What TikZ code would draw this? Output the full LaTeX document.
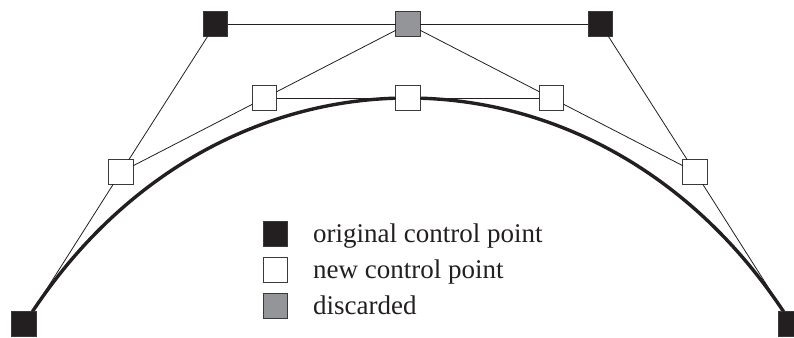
\documentclass[tikz,border=0pt]{standalone}
\usepackage{fontspec}
\setmainfont{Liberation Serif}
\definecolor{ink}{HTML}{231F20}
\definecolor{disc}{HTML}{939598}
\definecolor{edge}{HTML}{3A3A3A}
\begin{document}
\begin{tikzpicture}[x=1pt,y=-1pt,
  sq/.style={draw=edge,line width=0.9pt,minimum size=24.5pt,inner sep=0pt,outer sep=0pt},
  orig/.style={sq,fill=ink},
  newp/.style={sq,fill=white},
  discp/.style={sq,fill=disc},
  thin/.style={line width=0.8pt,draw=ink},
  curve/.style={line width=3.4pt,draw=ink},
  lab/.style={anchor=base west,inner sep=0pt,font=\fontsize{27}{31}\selectfont,text=ink}]
\useasboundingbox (0,0) rectangle (794,337);
% coordinates
\coordinate (c0) at (27,320);
\coordinate (c3) at (789,320);
\coordinate (k1) at (215.5,24);
\coordinate (k2) at (600.5,24);
% curve
\draw[curve] (c0) .. controls (k1) and (k2) .. (c3);
% nodes
\node[orig] (p0) at (24,324) {};
\node[orig] (p1) at (215.5,24) {};
\node[discp] (g) at (408,24) {};
\node[orig] (p2) at (600.5,24) {};
\node[orig] (p3) at (791,324) {};
\node[newp] (a) at (121,172) {};
\node[newp] (b) at (695,172) {};
\node[newp] (l) at (264.5,98) {};
\node[newp] (m) at (408,98) {};
\node[newp] (r) at (551.5,98) {};
% connectors
\draw[thin] (c0) -- (a);
\draw[thin] (a) -- (p1);
\draw[thin] (p1) -- (g);
\draw[thin] (g) -- (p2);
\draw[thin] (p2) -- (b);
\draw[thin] (b) -- (c3);
\draw[thin] (a) -- (l);
\draw[thin] (l) -- (g);
\draw[thin] (g) -- (r);
\draw[thin] (r) -- (b);
\draw[thin] (l) -- (m);
\draw[thin] (m) -- (r);
% legend
\node[orig] (k1s) at (275.5,234) {};
\node[newp] (k2s) at (275.5,270) {};
\node[discp] (k3s) at (275.5,306) {};
\node[lab] (t1) at (313,242.5) {original control point};
\node[lab] (t2) at (313,278.5) {new control point};
\node[lab] (t3) at (313,314.5) {discarded};
\end{tikzpicture}
\end{document}
